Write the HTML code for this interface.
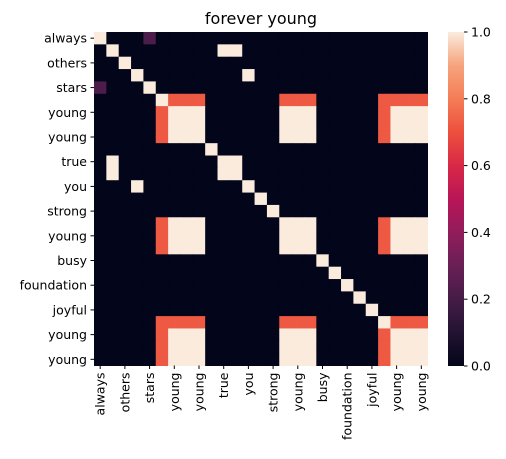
<!DOCTYPE html>
<html><head><meta charset="utf-8">
<style>
body{margin:0;background:#fff;}
svg{display:block;font-family:"DejaVu Sans","Liberation Sans",sans-serif;}
</style></head>
<body>
<svg id="chart" width="506" height="459">
<text x="261" y="24" font-size="16" text-anchor="middle" fill="#000">forever young</text>
<g id="cells"></g>
<g id="yaxis"></g>
<g id="xaxis"></g>
<defs><linearGradient id="cbg" x1="0" y1="1" x2="0" y2="0"></linearGradient></defs>
<rect x="448" y="32" width="16" height="334" fill="url(#cbg)"/>
<g id="cbaxis"></g>
</svg>
<script>
const tokens = ["always","true","others","you","stars","forever","young","young","young","be","true","true","you","can","strong","young","young","young","busy","a","foundation","of","joyful","stay","young","young","young"];
const labelEvery = 2;
const groupA = [6,7,8,15,16,17,24,25,26];
const leads = [5,23];
const leadSim = 0.72;
const specialPairs = [[0,4,0.22]];
const cbTicks = [0,0.2,0.4,0.6,0.8,1.0];
const cmapStops = [[0,"#03051A"],[0.1,"#221331"],[0.2,"#451C47"],[0.3,"#691F55"],[0.4,"#921C5B"],[0.5,"#B91657"],[0.6,"#D92847"],[0.7,"#ED503E"],[0.8,"#F47D57"],[0.9,"#F6A47D"],[1.0,"#FAEBDD"]];

const N = tokens.length;
const x0=94, y0=32, W=333.5, H=333.5;
const cw=W/N, ch=H/N;
const xs=i=>x0+i*cw, ys=i=>y0+i*ch;
const ns="http://www.w3.org/2000/svg";
function hex(h){return [1,3,5].map(k=>parseInt(h.substr(k,2),16));}
function color(v){
  for(let k=1;k<cmapStops.length;k++){
    if(v<=cmapStops[k][0]){
      const [a,ca]=cmapStops[k-1],[b,cb]=cmapStops[k];
      const t=(v-a)/(b-a);const A=hex(ca),B=hex(cb);
      return "rgb("+A.map((c,j)=>Math.round(c+(B[j]-c)*t)).join(",")+")";
    }
  }
  return cmapStops[cmapStops.length-1][1];
}
function sim(i,j){
  if(i===j) return 1;
  if(tokens[i]===tokens[j]) return 1;
  for(const p of specialPairs){ if((p[0]===i&&p[1]===j)||(p[0]===j&&p[1]===i)) return p[2]; }
  const inA=k=>groupA.includes(k), isL=k=>leads.includes(k);
  if((inA(i)||isL(i))&&(inA(j)||isL(j))) return leadSim;
  return 0;
}
const cells=document.getElementById('cells');
for(let i=0;i<N;i++)for(let j=0;j<N;j++){
  const r=document.createElementNS(ns,'rect');
  r.setAttribute('x',xs(j));r.setAttribute('y',ys(i));
  r.setAttribute('width',cw+0.5);r.setAttribute('height',ch+0.5);
  r.setAttribute('fill',color(sim(i,j)));
  
  
  cells.appendChild(r);
}
const ya=document.getElementById('yaxis'), xa=document.getElementById('xaxis');
for(let i=0;i<N;i+=labelEvery){
  const cy=ys(i)+ch/2, cx=xs(i)+cw/2;
  let l=document.createElementNS(ns,'line');
  l.setAttribute('x1',x0-3.5);l.setAttribute('x2',x0);l.setAttribute('y1',cy);l.setAttribute('y2',cy);l.setAttribute('stroke','#000');
  ya.appendChild(l);
  let t=document.createElementNS(ns,'text');
  t.setAttribute('x',x0-7);t.setAttribute('y',cy+4.5);t.setAttribute('font-size','12.5');t.setAttribute('text-anchor','end');
  t.textContent=tokens[i];
  
  
  ya.appendChild(t);
  l=document.createElementNS(ns,'line');
  l.setAttribute('x1',cx);l.setAttribute('x2',cx);l.setAttribute('y1',y0+H);l.setAttribute('y2',y0+H+3.5);l.setAttribute('stroke','#000');
  xa.appendChild(l);
  t=document.createElementNS(ns,'text');
  t.setAttribute('transform','translate('+(cx+4.5)+','+(y0+H+7)+') rotate(-90)');
  t.setAttribute('font-size','12.5');t.setAttribute('text-anchor','end');
  t.textContent=tokens[i];
  
  
  xa.appendChild(t);
}
const g=document.getElementById('cbg');
for(const s of cmapStops){const st=document.createElementNS(ns,'stop');st.setAttribute('offset',s[0]);st.setAttribute('stop-color',s[1]);g.appendChild(st);}
const cba=document.getElementById('cbaxis');
for(const v of cbTicks){
  const y=366-v*334;
  const l=document.createElementNS(ns,'line');
  l.setAttribute('x1',464);l.setAttribute('x2',467.5);l.setAttribute('y1',y);l.setAttribute('y2',y);l.setAttribute('stroke','#000');
  cba.appendChild(l);
  const t=document.createElementNS(ns,'text');
  t.setAttribute('x',471);t.setAttribute('y',y+4.5);t.setAttribute('font-size','12.5');
  t.textContent=v.toFixed(1);
  
  
  cba.appendChild(t);
}
</script>
</body></html>
